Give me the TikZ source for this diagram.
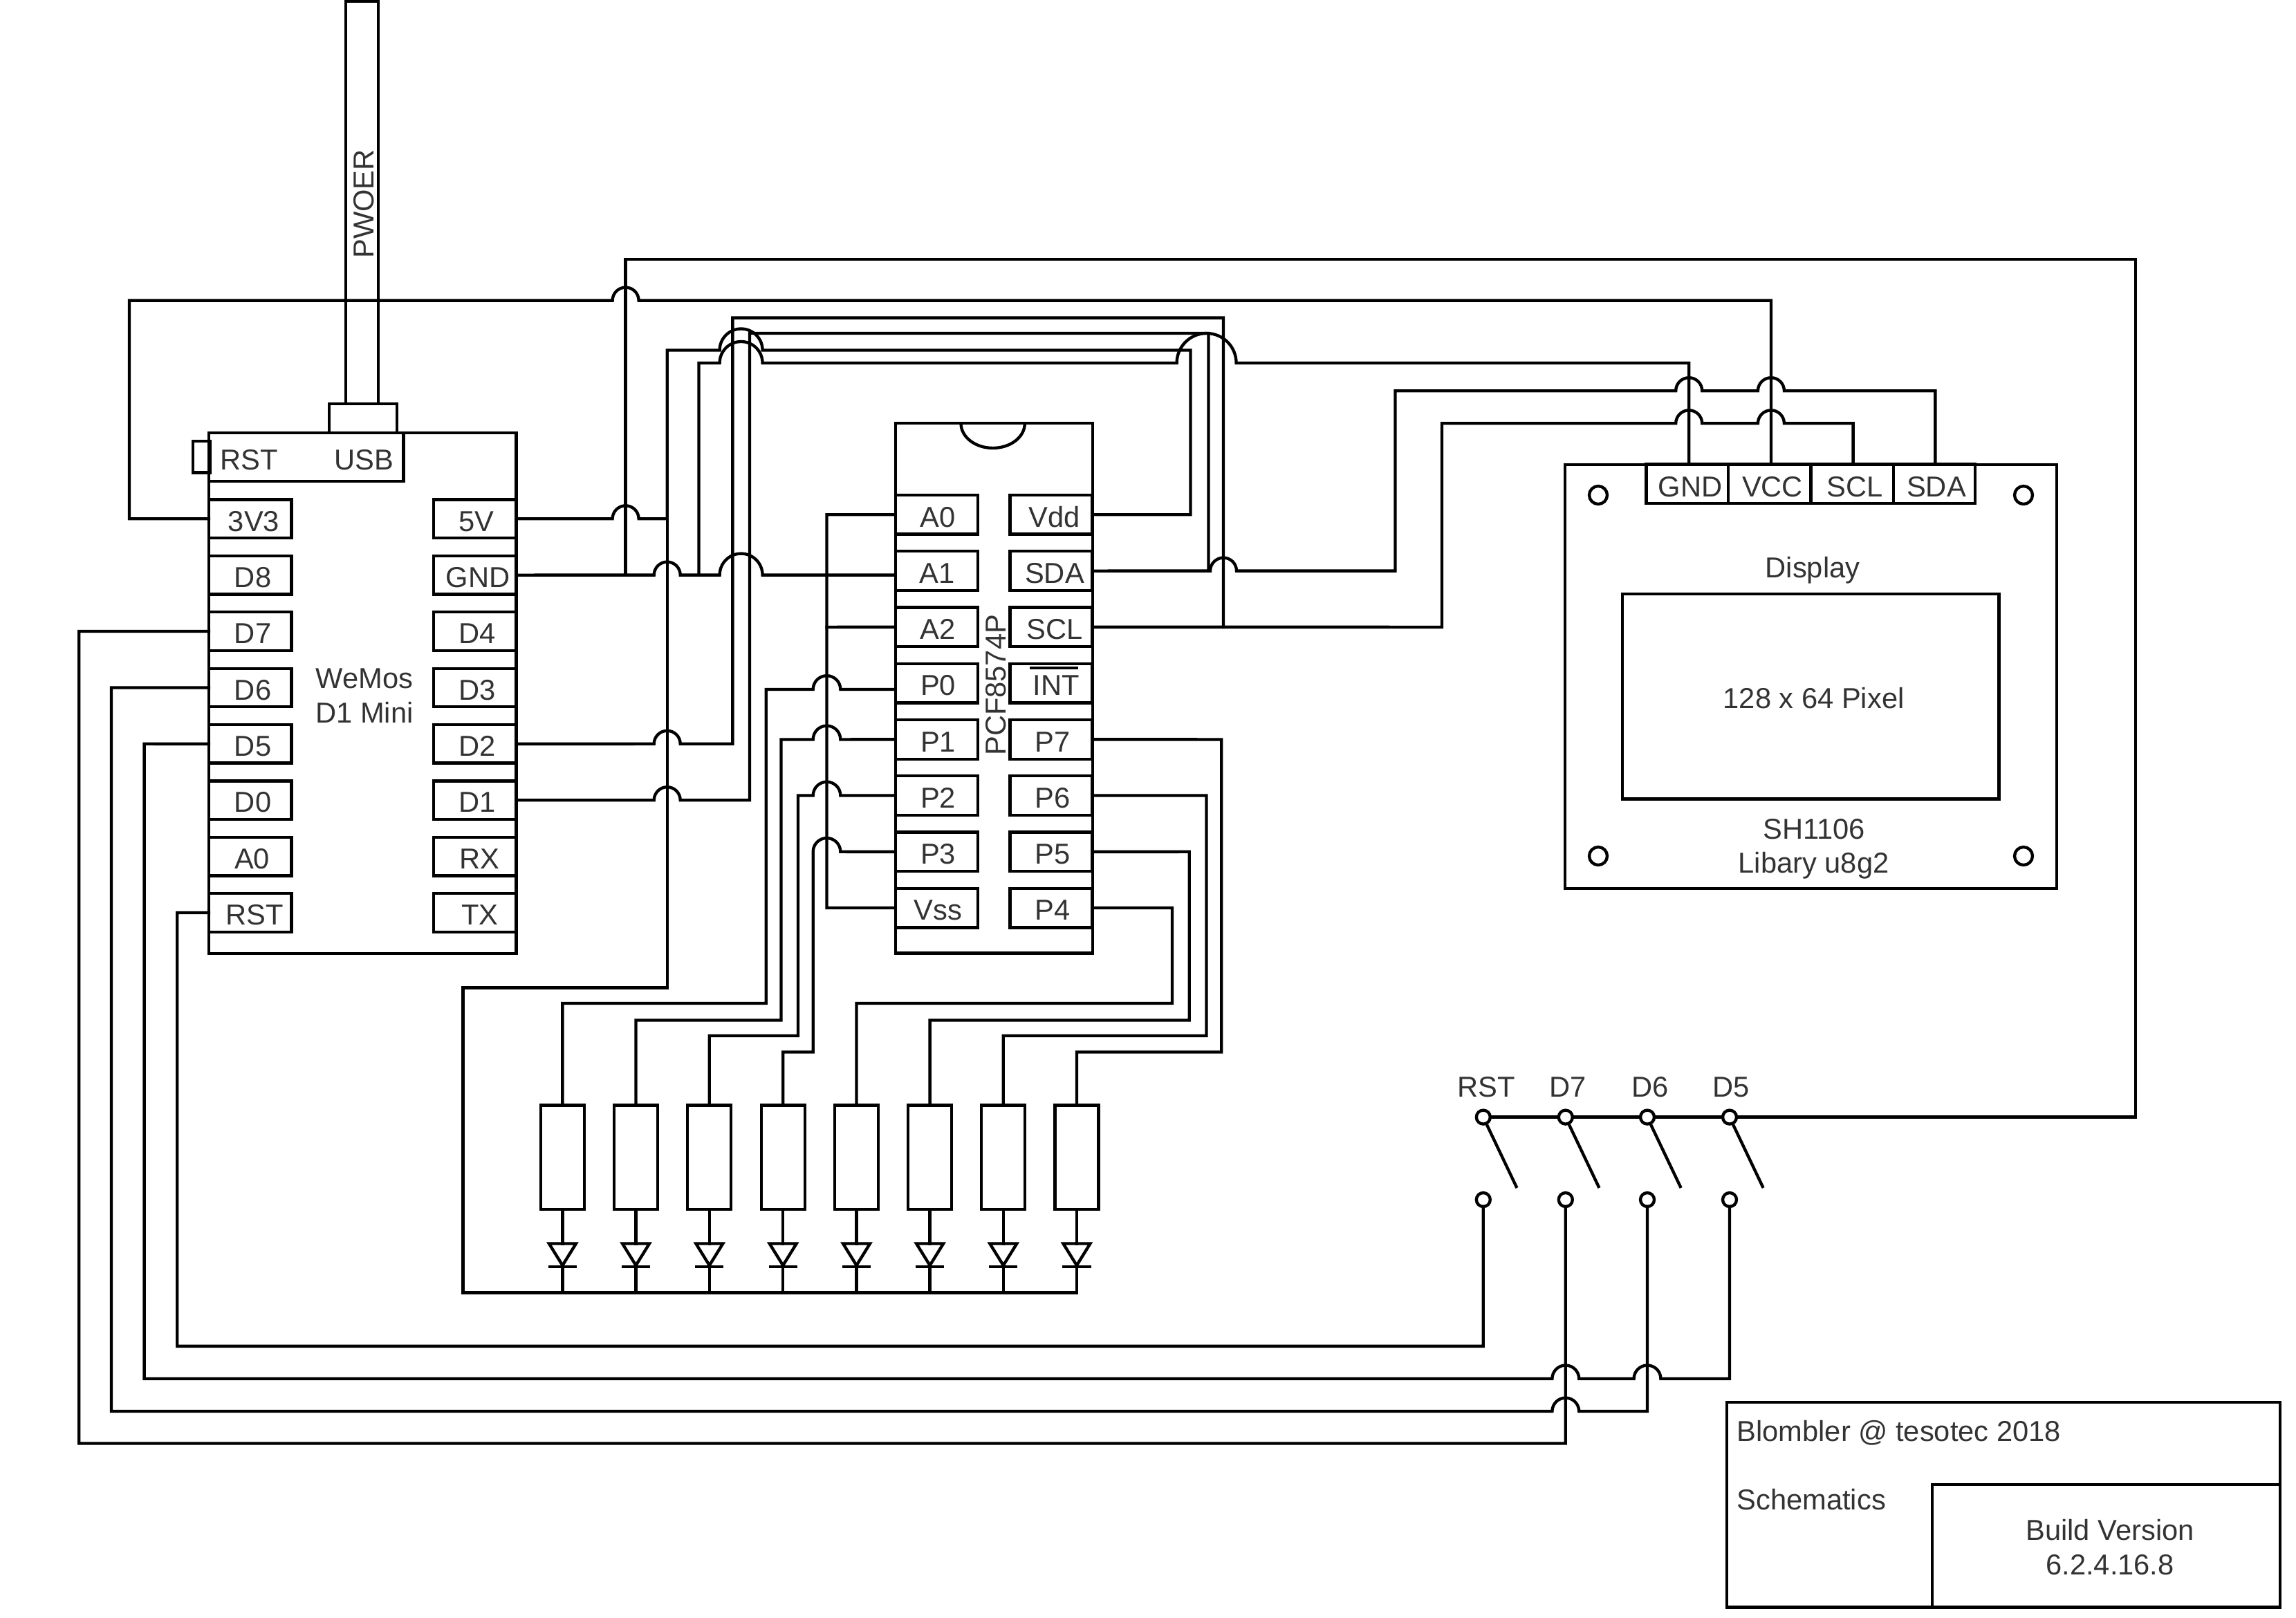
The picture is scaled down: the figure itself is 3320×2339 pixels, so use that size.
\documentclass[tikz,border=0pt]{standalone}
\usepackage{fontspec}
\setmainfont{Liberation Sans}
\usetikzlibrary{calc}
\definecolor{labelgrey}{HTML}{333333}
\newcommand{\pinrect}[8]{%
  \node[boxed,minimum width={(#4-#2)*0.3pt},minimum height={(#5-#3)*0.3pt}] (#1) at ({(#2+#4)/2},{(#3+#5)/2}) {};
  \node[lab] (#1t) at (#7+2,#8+2) {#6};
}
% hop going left to right / right to left, radius in px
\newcommand{\hr}[3]{-- ({#1-#3},#2) arc[start angle=180,end angle=0,radius={#3*0.3pt}]}
\newcommand{\hl}[3]{-- ({#1+#3},#2) arc[start angle=0,end angle=180,radius={#3*0.3pt}]}
\tikzset{
  boxed/.style={draw,rectangle,inner sep=0pt,outer sep=0pt},
  lab/.style={inner sep=0pt,outer sep=0pt,text=labelgrey,font=\fontsize{12.5}{15}\selectfont,align=center},
  contact/.style={draw,circle,fill=white,inner sep=0pt,outer sep=0pt,minimum size=6pt},
  hole/.style={draw,circle,inner sep=0pt,outer sep=0pt,minimum size=7.8pt},
}
\begin{document}
\begin{tikzpicture}[x=0.3pt,y=-0.3pt,line width=1.3pt,every path/.append style={line cap=rect}]
\useasboundingbox (0,0) rectangle (3320,2339);

% ---------- WeMos
\node[boxed,minimum width={444.5*0.3pt},minimum height={753*0.3pt}] (wemos) at (524.2,1002.5) {};
\node[boxed,minimum width={47*0.3pt},minimum height={582*0.3pt}] (cable) at (523.5,293) {};
\node[lab,rotate=90] (pwoer) at (526,295) {PWOER};
\node[boxed,minimum width={98*0.3pt},minimum height={42*0.3pt}] (plug) at (525,605) {};
\node[boxed,minimum width={25*0.3pt},minimum height={45.5*0.3pt}] (rstbtn) at (291.5,660.8) {};
\node[boxed,minimum width={281.5*0.3pt},minimum height={70*0.3pt}] (usbbar) at (442.7,661) {};
\node[lab] (usbrst) at (360,665) {RST};
\node[lab] (usbusb) at (526,665) {USB};
\node[lab] (wemostxt) at (527,1006) {WeMos\\[0pt]D1 Mini};

\pinrect{p33}{302}{722.5}{421.6}{778}{3V3}{365}{752}
\pinrect{pD8}{302}{803.9}{421.6}{859.4}{D8}{363.6}{833}
\pinrect{pD7}{302}{885.3}{421.6}{940.8}{D7}{363.6}{914}
\pinrect{pD6}{302}{966.7}{421.6}{1022.2}{D6}{363.6}{996}
\pinrect{pD5}{302}{1048.1}{421.6}{1103.6}{D5}{363.6}{1077}
\pinrect{pD0}{302}{1129.5}{421.6}{1185}{D0}{363.6}{1158}
\pinrect{pA0}{302}{1210.9}{421.6}{1266.4}{A0}{362.5}{1240}
\pinrect{pRST}{302}{1292.3}{421.6}{1347.8}{RST}{366.5}{1321}

\pinrect{p5V}{627}{722.5}{746.5}{778}{5V}{687}{752}
\pinrect{pGND}{627}{803.9}{746.5}{859.4}{GND}{689}{833}
\pinrect{pD4}{627}{885.3}{746.5}{940.8}{D4}{688.5}{914}
\pinrect{pD3}{627}{966.7}{746.5}{1022.2}{D3}{688.5}{996}
\pinrect{pD2}{627}{1048.1}{746.5}{1103.6}{D2}{688.5}{1077}
\pinrect{pD1}{627}{1129.5}{746.5}{1185}{D1}{688.5}{1158}
\pinrect{pRX}{627}{1210.9}{746.5}{1266.4}{RX}{691}{1240}
\pinrect{pTX}{627}{1292.3}{746.5}{1347.8}{TX}{692}{1321}

% ---------- PCF8574P
\node[boxed,minimum width={284.9*0.3pt},minimum height={766.2*0.3pt}] (chip) at (1437.2,995.4) {};
\coordinate (notchL) at (1389.5,612.3);
\draw (notchL) arc[start angle=180,end angle=360,x radius=13.85pt,y radius=10.7pt];
\node[lab,rotate=90] (chiptxt) at (1440,990.8) {PCF8574P};

\pinrect{cA0}{1294.7}{715.9}{1414}{772.6}{A0}{1354}{746}
\pinrect{cA1}{1294.7}{797.3}{1414}{854}{A1}{1353}{827}
\pinrect{cA2}{1294.7}{878.5}{1414}{935.2}{A2}{1354}{908}
\pinrect{cP0}{1294.7}{959.7}{1414}{1016.4}{P0}{1354.5}{989}
\pinrect{cP1}{1294.7}{1041}{1414}{1097.7}{P1}{1354.5}{1071}
\pinrect{cP2}{1294.7}{1122.2}{1414}{1178.9}{P2}{1354.5}{1152}
\pinrect{cP3}{1294.7}{1203.5}{1414}{1260.2}{P3}{1354.5}{1233}
\pinrect{cVss}{1294.7}{1284.7}{1414}{1341.4}{Vss}{1354.5}{1314}

\pinrect{cVdd}{1460.4}{715.9}{1579.6}{772.6}{Vdd}{1523}{746}
\pinrect{cSDA}{1460.4}{797.3}{1579.6}{854}{SDA}{1523}{827}
\pinrect{cSCL}{1460.4}{878.5}{1579.6}{935.2}{SCL}{1523}{908}
\pinrect{cINT}{1460.4}{959.7}{1579.6}{1016.4}{INT}{1525}{989}
\pinrect{cP7}{1460.4}{1041}{1579.6}{1097.7}{P7}{1520}{1071}
\pinrect{cP6}{1460.4}{1122.2}{1579.6}{1178.9}{P6}{1520}{1152}
\pinrect{cP5}{1460.4}{1203.5}{1579.6}{1260.2}{P5}{1520}{1233}
\pinrect{cP4}{1460.4}{1284.7}{1579.6}{1341.4}{P4}{1520}{1314}
\coordinate (intL) at (1491,966);
\coordinate (intR) at (1556.5,966);
\draw (intL) -- (intR);

% ---------- Display
\node[boxed,minimum width={710.7*0.3pt},minimum height={613.1*0.3pt}] (display) at (2618.6,978.2) {};
\node[boxed,minimum width={544.5*0.3pt},minimum height={296.5*0.3pt}] (lcd) at (2618.2,1007.2) {};
\node[lab] (disptxt) at (2621,825) {Display};
\node[lab] (pixtxt) at (2622.6,1010) {128 x 64 Pixel};
\node[lab] (shtxt) at (2623,1199) {SH1106};
\node[lab] (libtxt) at (2622.6,1251.5) {Libary u8g2};
\pinrect{dGND}{2380.4}{671.6}{2499}{727.7}{GND}{2442}{702}
\pinrect{dVCC}{2499}{671.6}{2618.4}{727.7}{VCC}{2561}{702}
\pinrect{dSCL}{2618.4}{671.6}{2737.7}{727.7}{SCL}{2680}{702}
\pinrect{dSDA}{2737.7}{671.6}{2855.9}{727.7}{SDA}{2798}{702}
\node[hole] (h1) at (2311,716) {};
\node[hole] (h2) at (2926,716) {};
\node[hole] (h3) at (2311,1238) {};
\node[hole] (h4) at (2926,1238) {};

% ---------- Switches
\node[contact] (sRa) at (2144.8,1615.6) {};
\node[contact] (s7a) at (2263.8,1615.6) {};
\node[contact] (s6a) at (2382,1615.6) {};
\node[contact] (s5a) at (2501,1615.6) {};
\node[contact] (sRb) at (2144.8,1735) {};
\node[contact] (s7b) at (2263.8,1735) {};
\node[contact] (s6b) at (2382,1735) {};
\node[contact] (s5b) at (2501,1735) {};
\node[lab] (swR) at (2149,1572) {RST};
\node[lab] (sw7) at (2267,1572) {D7};
\node[lab] (sw6) at (2386,1572) {D6};
\node[lab] (sw5) at (2503,1572) {D5};
\foreach \n/\px in {R/2144.8,7/2263.8,6/2382,5/2501}{
  \coordinate (bladeA\n) at (\px+6,1628.4);
  \coordinate (bladeB\n) at (\px+47.7,1716);
  \draw (bladeA\n) -- (bladeB\n);
}

% ---------- LEDs
\foreach \i/\cx in {1/813.4,2/919.5,3/1025.8,4/1132.2,5/1238.5,6/1344.6,7/1450.8,8/1556.9}{
  \node[boxed,minimum width={63*0.3pt},minimum height={150.3*0.3pt}] (r\i) at (\cx,1673.6) {};
  \coordinate (dA\i) at (\cx,1798.5);
  \coordinate (dK\i) at (\cx,1832);
  \coordinate (bus\i) at (\cx,1869.4);
  \draw (r\i.south) -- (dA\i);
  \draw (\cx-19.5,1798.5) -- (\cx+19.5,1798.5) -- (\cx,1830) -- cycle;
  \draw (\cx-18.5,1832) -- (\cx+18.5,1832);
  \draw (dK\i) -- (bus\i);
}

% ---------- Wires
% 3V3 to display VCC
\draw (p33.west) -- (187,750.3) -- (187,434.6) \hr{904.6}{434.6}{19} -- (2560.9,434.6) -- (2560.9,671.6);
% GND
\draw (pGND.east) \hr{964.7}{831.6}{19} \hr{1071.6}{831.6}{31} -- (1294.7,831.6);
\draw (904.6,831.6) -- (904.6,375) -- (3088,375) -- (3088,1615.6) -- (s5a);
\draw (s5a) -- (s6a) -- (s7a) -- (sRa);
\draw (1010.5,831.6) -- (1010.5,525) \hr{1071.6}{525}{31} \hr{1744.6}{525}{43} -- (2442.2,525) -- (2442.2,671.6);
% 5V
\draw (p5V.east) \hr{904.6}{750.3}{19} -- (964.7,750.3) -- (964.7,506.5) \hr{1071.6}{506.5}{31} -- (1721.4,506.5) -- (1721.4,744.2) -- (cVdd.east);
\draw (964.7,750.3) -- (964.7,1428.6) -- (669.6,1428.6) -- (669.6,1869.4) -- (bus8);
% D1 / SDA
\draw (pD1.east) \hr{964.7}{1157.2}{19} -- (1084,1157.2) -- (1084,482) -- (1747.4,482) -- (1747.4,825.6);
\draw (cSDA.east) \hr{1769}{825.6}{19} -- (2017.5,825.6) -- (2017.5,565.2) \hr{2442.2}{565.2}{19} \hr{2560.9}{565.2}{19} -- (2798.3,565.2) -- (2798.3,671.6);
% D2 / SCL
\draw (pD2.east) \hr{964.7}{1075.8}{19} -- (1059.4,1075.8) -- (1059.4,459.6) -- (1769,459.6) -- (1769,906.9);
\draw (cSCL.east) -- (2085,906.9) -- (2085,612.3) \hr{2442.2}{612.3}{19} \hr{2560.9}{612.3}{19} -- (2679.6,612.3) -- (2679.6,671.6);
% address lines
\draw (cA0.west) -- (1195.5,744.2) -- (1195.5,1313) -- (cVss.west);
\draw (1195.5,906.9) -- (cA2.west);
% P0..P3
\draw (1294.7,997) \hl{1195.5}{997}{19.8} -- (1107.7,997) -- (1107.7,1451) -- (813.4,1451) -- (r1.north);
\draw (cP1.west) \hl{1195.5}{1069.4}{19.8} -- (1129.5,1069.4) -- (1129.5,1475.5) -- (919.5,1475.5) -- (r2.north);
\draw (cP2.west) \hl{1195.5}{1150.5}{19.8} -- (1154,1150.5) -- (1154,1498) -- (1025.8,1498) -- (r3.north);
\draw (cP3.west) \hl{1195.5}{1231.8}{19.8} -- (1175.7,1521.5) -- (1132.2,1521.5) -- (r4.north);
% P4..P7
\draw (cP4.east) -- (1695,1313) -- (1695,1451) -- (1238.5,1451) -- (r5.north);
\draw (cP5.east) -- (1719.8,1231.8) -- (1719.8,1475.5) -- (1344.6,1475.5) -- (r6.north);
\draw (cP6.east) -- (1744.5,1150.5) -- (1744.5,1498) -- (1450.8,1498) -- (r7.north);
\draw (cP7.east) -- (1766.3,1069.4) -- (1766.3,1521.5) -- (1556.9,1521.5) -- (r8.north);
% switch returns
\draw (pRST.west) -- (256.3,1320) -- (256.3,1946.8) -- (2144.8,1946.8) -- (sRb);
\draw (pD5.west) -- (208.6,1075.8) -- (208.6,1993.9) \hr{2263.8}{1993.9}{19.4} \hr{2382}{1993.9}{19.4} -- (2501,1993.9) -- (s5b);
\draw (pD6.west) -- (161,994.4) -- (161,2041) \hr{2263.8}{2041}{19.4} -- (2382,2041) -- (s6b);
\draw (pD7.west) -- (114.3,913) -- (114.3,2087.5) -- (2263.8,2087.5) -- (s7b);

% ---------- Title block
\node[boxed,minimum width={800*0.3pt},minimum height={296.5*0.3pt}] (title) at (2897,2176.2) {};
\node[boxed,minimum width={503*0.3pt},minimum height={177.5*0.3pt}] (build) at (3045.5,2235.7) {};
\node[lab,anchor=west] (blom) at (2511.5,2072) {Blombler @ tesotec 2018};
\node[lab,anchor=west] (schem) at (2511.5,2169) {Schematics};
\node[lab] (buildtxt) at (3051,2238) {Build Version\\[0pt]6.2.4.16.8};
\end{tikzpicture}
\end{document}
